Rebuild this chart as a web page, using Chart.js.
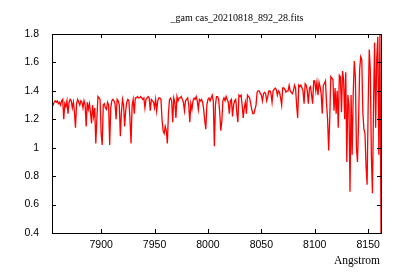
<!DOCTYPE html>
<html>
<head>
<meta charset="utf-8">
<script src="https://cdn.jsdelivr.net/npm/chart.js@4/dist/chart.umd.min.js"></script>
<style>
  html, body { margin: 0; padding: 0; background: #fff; }
  #wrap { width: 400px; height: 280px; position: relative; }
</style>
</head>
<body>
<div id="wrap"><canvas id="spectrum"></canvas></div>
<script>
const titleText = "_gam cas_20210818_892_28.fits";
const xLabel = "Angstrom";

// wavelength grid (Angstrom), 1 A steps
const startWave = 7854;
const stepWave = 1;

// flux, one value per Angstrom from 7854 to 8162
const flux = [
    1.31, 1.30, 1.32, 1.33, 1.32, 1.33, 1.31, 1.32, 1.30, 1.33,
    1.34, 1.20, 1.31, 1.29, 1.33, 1.24, 1.32, 1.34, 1.33, 1.28,
    1.32, 1.25, 1.14, 1.31, 1.34, 1.32, 1.30, 1.33, 1.32, 1.28,
    1.33, 1.30, 1.15, 1.32, 1.27, 1.31, 1.25, 1.17, 1.30, 1.22,
    1.28, 1.03, 1.20, 1.36, 1.35, 1.34, 1.10, 1.02, 1.30, 1.31,
    1.28, 1.27, 1.32, 1.30, 1.02, 1.28, 1.33, 1.34, 1.33, 1.31,
    1.20, 1.34, 1.33, 1.30, 1.08, 1.25, 1.34, 1.30, 1.15, 1.26,
    1.32, 1.34, 1.33, 1.20, 1.03, 1.30, 1.34, 1.24, 1.35, 1.35,
    1.36, 1.35, 1.35, 1.36, 1.35, 1.34, 1.35, 1.28, 1.34, 1.35,
    1.36, 1.35, 1.26, 1.34, 1.33, 1.32, 1.28, 1.34, 1.26, 1.33,
    1.35, 1.35, 1.34, 1.20, 1.12, 1.10, 1.15, 1.12, 1.03, 1.24,
    1.34, 1.35, 1.33, 1.18, 1.35, 1.32, 1.21, 1.36, 1.33, 1.35,
    1.35, 1.36, 1.34, 1.32, 1.26, 1.33, 1.34, 1.35, 1.30, 1.18,
    1.31, 1.27, 1.33, 1.35, 1.34, 1.36, 1.33, 1.27, 1.34, 1.33,
    1.34, 1.32, 1.27, 1.19, 1.13, 1.30, 1.34, 1.35, 1.33, 1.35,
    1.37, 1.33, 1.01, 1.30, 1.36, 1.36, 1.34, 1.25, 1.12, 1.19,
    1.33, 1.35, 1.33, 1.36, 1.34, 1.32, 1.24, 1.33, 1.34, 1.22,
    1.30, 1.33, 1.34, 1.25, 1.18, 1.37, 1.36, 1.37, 1.30, 1.21,
    1.28, 1.32, 1.24, 1.37, 1.36, 1.35, 1.31, 1.27, 1.24, 1.24,
    1.27, 1.30, 1.39, 1.40, 1.40, 1.38, 1.37, 1.33, 1.38, 1.39,
    1.38, 1.33, 1.36, 1.40, 1.40, 1.38, 1.32, 1.40, 1.41, 1.42,
    1.41, 1.37, 1.40, 1.39, 1.35, 1.30, 1.42, 1.42, 1.41, 1.39,
    1.40, 1.40, 1.44, 1.40, 1.39, 1.38, 1.40, 1.44, 1.42, 1.30,
    1.21, 1.44, 1.43, 1.44, 1.42, 1.40, 1.31, 1.45, 1.44, 1.40,
    1.31, 1.42, 1.43, 1.37, 1.31, 1.47, 1.47, 1.40, 1.46, 1.37,
    1.46, 1.43, 1.38, 1.24, 1.44, 1.45, 1.47, 1.31, 1.20, 0.98,
    1.20, 1.50, 1.49, 1.48, 1.26, 1.42, 1.24, 1.40, 1.14, 1.51,
    1.50, 1.25, 1.54, 1.48, 1.20, 1.53, 0.90, 1.37, 1.30, 0.69,
    1.37, 0.95, 1.38, 1.61, 1.50, 1.00, 0.90, 1.18, 1.55, 1.64,
    1.62, 1.25, 1.13, 1.10, 0.87, 0.74, 1.30, 1.69, 1.54, 0.94,
    0.68, 1.30, 1.74, 1.14, 1.62, 1.78, 0.95, 1.80, 0.40
];

const xTicks = [7900, 7950, 8000, 8050, 8100, 8150];
const yTicks = [0.4, 0.6, 0.8, 1, 1.2, 1.4, 1.6, 1.8];

const points = flux.map((f, i) => ({ x: startWave + i * stepWave, y: f }));
const lastWave = startWave + (flux.length - 1) * stepWave;

// gnuplot style frame: box with inward ticks on every side, title and x label
const framePlugin = {
    id: "frame",
    afterDraw(chart) {
        const { ctx, chartArea: a, scales } = chart;
        ctx.save();
        ctx.strokeStyle = "#000";
        ctx.lineWidth = 1;
        ctx.beginPath();
        xTicks.forEach((v) => {
            const px = Math.round(scales.x.getPixelForValue(v)) + 0.5;
            ctx.moveTo(px, a.bottom); ctx.lineTo(px, a.bottom - 4);
            ctx.moveTo(px, a.top); ctx.lineTo(px, a.top + 4);
        });
        yTicks.forEach((v) => {
            const py = Math.round(scales.y.getPixelForValue(v)) + 0.5;
            ctx.moveTo(a.left, py); ctx.lineTo(a.left + 4, py);
            ctx.moveTo(a.right, py); ctx.lineTo(a.right - 4, py);
        });
        ctx.stroke();
        ctx.strokeRect(Math.round(a.left) + 0.5, Math.round(a.top) + 0.5,
            Math.round(a.right - a.left), Math.round(a.bottom - a.top));

        ctx.fillStyle = "#000";
        ctx.textBaseline = "middle";
        ctx.font = "10px 'Liberation Serif', serif";
        ctx.textAlign = "center";
        ctx.fillText(titleText, 237, 18);
        ctx.font = "11.5px 'Liberation Serif', serif";
        ctx.textAlign = "right";
        ctx.fillText(xLabel, 380, 261);
        ctx.restore();
    }
};

new Chart(document.querySelector("#spectrum"), {
    type: "line",
    data: {
        datasets: [{
            data: points,
            borderColor: "#ff0000",
            borderWidth: 1.3,
            pointRadius: 0,
            tension: 0,
            fill: false
        }]
    },
    options: {
        responsive: true,
        maintainAspectRatio: false,
        animation: false,
        events: [],
        layout: { padding: { left: 0, right: 19, top: 34, bottom: 0 } },
        plugins: { legend: { display: false }, tooltip: { enabled: false } },
        scales: {
            x: {
                type: "linear",
                min: startWave,
                max: lastWave,
                afterFit: (s) => { s.height = 47; },
                afterBuildTicks: (s) => { s.ticks = xTicks.map((v) => ({ value: v })); },
                grid: { display: false, drawTicks: false },
                border: { display: false },
                ticks: {
                    color: "#000",
                    padding: 6,
                    maxRotation: 0,
                    callback: (v) => String(v),
                    font: { family: "'Liberation Sans', sans-serif", size: 10.5 }
                }
            },
            y: {
                min: 0.4,
                max: 1.8,
                afterFit: (s) => { s.width = 52; },
                afterBuildTicks: (s) => { s.ticks = yTicks.map((v) => ({ value: v })); },
                grid: { display: false, drawTicks: false },
                border: { display: false },
                ticks: {
                    color: "#000",
                    padding: 13,
                    callback: (v) => String(Math.round(v * 10) / 10),
                    font: { family: "'Liberation Sans', sans-serif", size: 10.5 }
                }
            }
        }
    },
    plugins: [framePlugin]
});
</script>
</body>
</html>
